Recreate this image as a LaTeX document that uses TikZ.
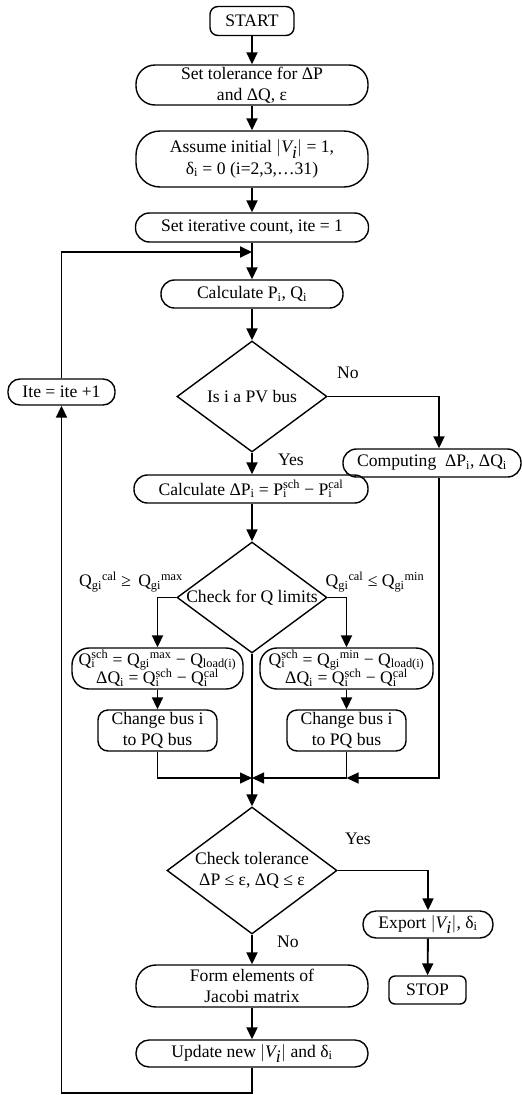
\documentclass[tikz,border=0pt]{standalone}
\usepackage{fontspec}
\setmainfont{Liberation Serif}
\usetikzlibrary{shapes.geometric,arrows.meta,calc}
\newcommand\sbp[2]{\textsubscript{#1}\textsuperscript{#2}}
\newcommand\stk[2]{\rlap{\textsubscript{#1}}\textsuperscript{#2}}
\newcommand\absV{$\bigl|\textit{V}_{\textit{i}}\bigr|$}
\begin{document}
\begin{tikzpicture}[x=1pt,y=-1pt,
 every node/.style={font=\fontsize{17.6}{21.5}\selectfont},
 box/.style={draw,line width=1.4pt,align=center,inner sep=0pt},
 dia/.style={draw,diamond,line width=1.4pt,inner sep=0pt},
 arr/.style={line width=1.9pt,-{Triangle[length=12pt,width=11pt]}},
 tarr/.style={line width=1.3pt,-{Triangle[length=12pt,width=11pt]}},
 thinln/.style={line width=1.3pt},
 lab/.style={inner sep=0pt,align=center}]
\useasboundingbox (0,0) rectangle (522,1095);

% nodes
\node[box,minimum width=84pt,minimum height=29pt,rounded corners=8pt] (start) at (252,21) {START};
\node[box,minimum width=232pt,minimum height=40pt,rounded corners=19pt] (tol) at (252,85) {Set tolerance for ΔP\\and ΔQ, ε};
\node[box,minimum width=232pt,minimum height=56pt,rounded corners=24pt] (init) at (252,159) {Assume initial \absV{} = 1,\\δ\textsubscript{i} = 0 (i=2,3,…31)};
\node[box,minimum width=233pt,minimum height=29pt,rounded corners=14pt] (iter) at (252,227.5) {Set iterative count, ite = 1};
\node[box,minimum width=182pt,minimum height=28pt,rounded corners=13.5pt] (calc) at (252,294) {Calculate P\textsubscript{i}, Q\textsubscript{i}};
\node[dia,minimum width=150pt,minimum height=111pt] (pv) at (252,396.5) {};
\node[lab] (pvt) at (pv.center) {Is i a PV bus};
\node[box,minimum width=178pt,minimum height=28pt,rounded corners=13.5pt] (comp) at (432,463) {Computing\ \ ΔP\textsubscript{i}, ΔQ\textsubscript{i}};
\node[box,minimum width=107pt,minimum height=26pt,rounded corners=12pt] (ite) at (61.5,392) {Ite = ite +1};
\node[box,minimum width=234pt,minimum height=28pt,rounded corners=13.5pt] (dp) at (251,489) {Calculate ΔP\textsubscript{i} = P\stk{i}{sch} − P\stk{i}{cal}};
\node[dia,minimum width=150pt,minimum height=111pt] (ql) at (252,597.5) {};
\node[lab] (qlt) at (ql.center) {Check for Q limits};
\node[box,minimum width=171pt,minimum height=41pt,rounded corners=17pt] (qmax) at (157.5,668.5) {Q\stk{i}{sch} = Q\sbp{gi}{max} − Q\textsubscript{load(i)}\\[-3pt]ΔQ\textsubscript{i} = Q\stk{i}{sch} − Q\stk{i}{cal}};
\node[box,minimum width=173pt,minimum height=41pt,rounded corners=17pt] (qmin) at (346.5,668.5) {Q\stk{i}{sch} = Q\sbp{gi}{min} − Q\textsubscript{load(i)}\\[-3pt]ΔQ\textsubscript{i} = Q\stk{i}{sch} − Q\stk{i}{cal}};
\node[box,minimum width=119pt,minimum height=41pt,rounded corners=10pt] (cb1) at (157.5,730.5) {Change bus i\\to PQ bus};
\node[box,minimum width=119pt,minimum height=41pt,rounded corners=10pt] (cb2) at (346.5,730.5) {Change bus i\\to PQ bus};
\node[dia,minimum width=170pt,minimum height=127pt] (tl) at (252,870.5) {};
\node[lab] (tlt) at (tl.center) {Check tolerance\\ΔP ≤ ε, ΔQ ≤ ε};
\node[box,minimum width=130pt,minimum height=27pt,rounded corners=13pt] (exp) at (428,924.5) {Export \absV, δ\textsubscript{i}};
\node[box,minimum width=77pt,minimum height=28pt,rounded corners=6pt] (stop) at (427.5,990) {STOP};
\node[box,minimum width=232pt,minimum height=42pt,rounded corners=20pt] (form) at (252,986) {Form elements of\\Jacobi matrix};
\node[box,minimum width=232pt,minimum height=27pt,rounded corners=13pt] (upd) at (252,1053.5) {Update new \absV{} and δ\textsubscript{i}};

% labels
\node[lab] (no1) at (348,373) {No};
\node[lab] (yes1) at (291,460) {Yes};
\node[lab] (lq) at (131,582) {Q\sbp{gi}{cal} ≥\ \,Q\sbp{gi}{max}};
\node[lab] (rq) at (375,582) {Q\sbp{gi}{cal} ≤ Q\sbp{gi}{min}};
\node[lab] (yes2) at (358,839) {Yes};
\node[lab] (no2) at (288,942) {No};

% coordinates
\coordinate (cx) at (439,0);
\coordinate (m) at (252,778);
\coordinate (bot) at (0,1093);
\coordinate (lp) at (252,252);

% connectors
\draw[arr] (start) -- (tol);
\draw[arr] (tol) -- (init);
\draw[arr] (init) -- (iter);
\draw[arr] (iter) -- (calc);
\draw[arr] (calc) -- (pv.north);
\draw[arr] (pv.south) -- (pv.south |- dp.north);
\draw[arr] (pv.east) -| (cx |- comp.north);
\draw[arr] (ql.north |- dp.south) -- (ql.north);
\draw[arr] (ql.west) -| (qmax.north);
\draw[arr] (ql.east) -| (qmin.north);
\draw[arr] (qmax) -- (cb1);
\draw[arr] (qmin) -- (cb2);
\draw[tarr] (cb1.south) |- (m);
\draw[thinln] (cb2.south) -- (cb2.south |- m);
\draw[tarr] (cx |- comp.south) |- (cb2.south |- m);
\draw[tarr] (cb2.south |- m) -- (m);
\draw[arr] (ql.south) -- (tl.north);
\draw[arr] (tl.east) -| (exp.north);
\draw[arr] (exp) -- (stop);
\draw[arr] (tl.south) -- (form);
\draw[arr] (form) -- (upd);
\draw[arr] (upd.south) |- (ite.south |- bot) -- (ite.south);
\draw[arr] (ite.north) |- (lp);
\end{tikzpicture}
\end{document}
